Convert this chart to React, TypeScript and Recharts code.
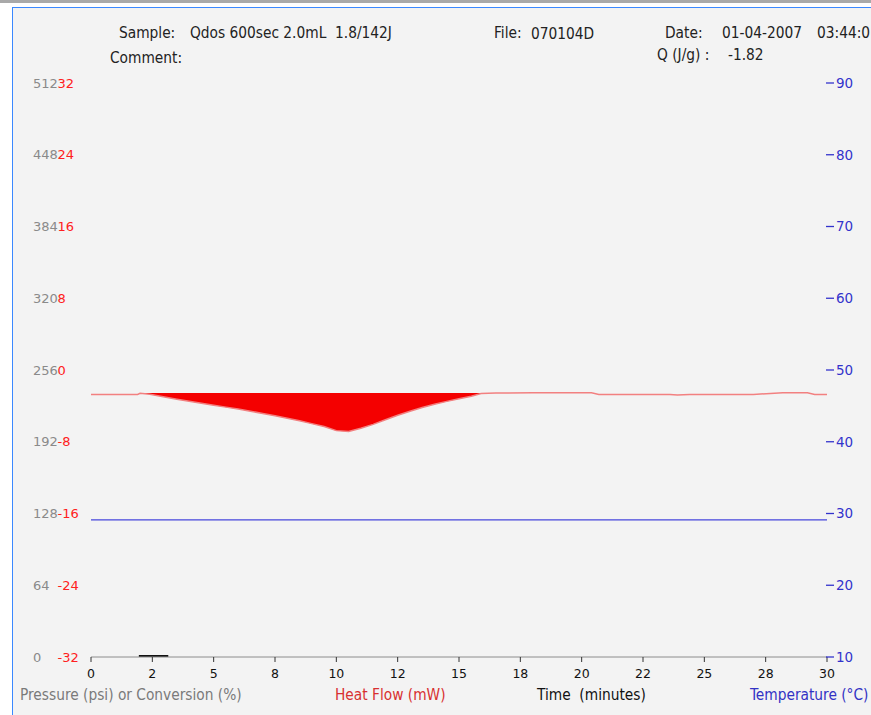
import React from 'react';
import { ComposedChart, Line, Area, XAxis, YAxis } from 'recharts';

// ---- tick values / labels ----
const timeTicks = [0, 2.5, 5, 7.5, 10, 12.5, 15, 17.5, 20, 22.5, 25, 27.5, 30];
const timeTickLabels = ['0', '2', '5', '8', '10', '12', '15', '18', '20', '22', '25', '28', '30'];
const pressureTicks = [0, 64, 128, 192, 256, 320, 384, 448, 512];
const heatTicks = [-32, -24, -16, -8, 0, 8, 16, 24, 32];
const tempTicks = [10, 20, 30, 40, 50, 60, 70, 80, 90];

// ---- heat flow (mW) vs time (min) ----
const heatTimes = [0, 1, 1.9, 2.0, 2.4, 3, 3.5, 4, 4.5, 5, 5.5, 6, 6.5, 7, 7.5, 8, 8.5, 9, 9.5, 10, 10.5, 11, 11.5, 12, 12.5, 13, 13.5, 14, 14.5, 15, 15.5, 15.9, 16.5, 18, 20.4, 20.7, 23.6, 23.9, 24.4, 27, 28.2, 29.2, 29.5, 30];
const heatFlow = [-2.73, -2.73, -2.73, -2.6, -2.7, -3.02, -3.26, -3.48, -3.7, -3.92, -4.14, -4.36, -4.6, -4.84, -5.1, -5.38, -5.66, -5.98, -6.3, -6.76, -6.86, -6.5, -6.06, -5.55, -5.05, -4.6, -4.18, -3.82, -3.5, -3.2, -2.92, -2.62, -2.56, -2.55, -2.54, -2.72, -2.73, -2.8, -2.74, -2.72, -2.55, -2.54, -2.72, -2.73];
const HEAT_FILL_TOP = -2.56;
const FILL_START = 2.0;
const FILL_END = 15.9;

// ---- temperature (°C) ----
const tempTimes = [0, 30];
const temperature = [29.1, 29.1];

// ---- pressure (psi) ----
const pressureTimes = [1.95, 2.5, 3.15];
const pressure = [0.9, 0.9, 0.9];

const heatData = heatTimes.map((t, i) => ({ t, v: heatFlow[i] }));
const fillData = heatTimes
  .map((t, i) => ({ t, band: [HEAT_FILL_TOP, heatFlow[i]] }))
  .filter((d) => d.t >= FILL_START && d.t <= FILL_END);
const tempData = tempTimes.map((t, i) => ({ t, v: temperature[i] }));
const pressureData = pressureTimes.map((t, i) => ({ t, v: pressure[i] }));

const NUM_FONT = '"DejaVu Sans", Verdana, sans-serif';
const TXT_FONT = '"DejaVu Sans Condensed", "Liberation Sans", Arial, sans-serif';

const PressureTick = (props: any) => (
  <text x={33} y={props.y} dy={4.6} fill="#8a8a8a" fontSize={13} fontFamily={NUM_FONT}>
    {props.payload.value}
  </text>
);
const HeatTick = (props: any) => (
  <text x={57.5} y={props.y} dy={4.6} fill="#ff2020" fontSize={13} fontFamily={NUM_FONT}>
    {props.payload.value}
  </text>
);
const TempTick = (props: any) => (
  <g>
    <line x1={826} x2={834} y1={props.y} y2={props.y} stroke="#3333cc" strokeWidth={1.3} />
    <text x={836} y={props.y} dy={4.8} fill="#3333cc" fontSize={13.5} fontFamily={NUM_FONT}>
      {props.payload.value}
    </text>
  </g>
);
const TimeTick = (props: any) => {
  const idx = timeTicks.indexOf(props.payload.value);
  return (
    <text x={props.x} y={678} textAnchor="middle" fill="#111" fontSize={12.5} fontFamily={NUM_FONT}>
      {idx >= 0 ? timeTickLabels[idx] : ''}
    </text>
  );
};

const Label = ({ x, y, color, children, size = 15.3 }: any) => (
  <span
    style={{
      position: 'absolute',
      left: x,
      top: y - 9,
      lineHeight: '18px',
      fontSize: size,
      fontFamily: TXT_FONT,
      color,
      whiteSpace: 'pre',
    }}
  >
    {children}
  </span>
);

export default function App() {
  return (
    <div
      style={{
        position: 'fixed',
        left: 0,
        top: 0,
        width: 871,
        height: 715,
        overflow: 'hidden',
        background: '#ffffff',
      }}
    >
      <div style={{ position: 'absolute', left: 0, top: 0, width: 871, height: 3, background: '#a9a9a9' }} />
      <div
        style={{
          position: 'absolute',
          left: 12,
          top: 7,
          width: 900,
          height: 760,
          background: '#f3f3f3',
          borderLeft: '1.5px solid #3a88ff',
          borderTop: '1.5px solid #3a88ff',
        }}
      />
      <div style={{ position: 'absolute', left: 0, top: 0 }}>
        <ComposedChart width={871} height={715} margin={{ top: 83, right: 0, bottom: 33, left: 0 }}>
          <XAxis
            dataKey="t"
            type="number"
            domain={[0, 30]}
            ticks={timeTicks}
            interval={0}
            allowDataOverflow
            height={25}
            tickSize={5}
            axisLine={{ stroke: '#8c8c8c' }}
            tickLine={{ stroke: '#333' }}
            tick={<TimeTick />}
          />
          <YAxis
            yAxisId="p"
            orientation="left"
            width={45}
            domain={[0, 512]}
            ticks={pressureTicks}
            interval={0}
            axisLine={false}
            tickLine={false}
            tick={<PressureTick />}
          />
          <YAxis
            yAxisId="h"
            orientation="left"
            width={46}
            domain={[-32, 32]}
            ticks={heatTicks}
            interval={0}
            axisLine={false}
            tickLine={false}
            tick={<HeatTick />}
          />
          <YAxis
            yAxisId="tc"
            orientation="right"
            width={44}
            domain={[10, 90]}
            ticks={tempTicks}
            interval={0}
            axisLine={false}
            tickLine={false}
            tick={<TempTick />}
          />
          <Line
            data={tempData}
            dataKey="v"
            yAxisId="tc"
            type="linear"
            stroke="#4646dc"
            strokeWidth={1.2}
            dot={false}
            isAnimationActive={false}
          />
          <Line
            data={heatData}
            dataKey="v"
            yAxisId="h"
            type="linear"
            stroke="#f28080"
            strokeWidth={1.5}
            dot={false}
            isAnimationActive={false}
          />
          <Area
            data={fillData}
            dataKey="band"
            yAxisId="h"
            type="linear"
            fill="#f40000"
            fillOpacity={1}
            stroke="none"
            isAnimationActive={false}
          />
          <Line
            data={pressureData}
            dataKey="v"
            yAxisId="p"
            type="linear"
            stroke="#111111"
            strokeWidth={2}
            dot={false}
            isAnimationActive={false}
          />
        </ComposedChart>
      </div>

      <Label x={119} y={33} color="#222">Sample:</Label>
      <Label x={190} y={33} color="#222">{'Qdos 600sec 2.0mL  1.8/142J'}</Label>
      <Label x={494} y={33} color="#222">File:</Label>
      <Label x={531} y={34} color="#222">070104D</Label>
      <Label x={665} y={33} color="#222">Date:</Label>
      <Label x={722} y={33} color="#222">01-04-2007</Label>
      <Label x={817} y={33} color="#222">03:44:0</Label>
      <Label x={110} y={58} color="#222">Comment:</Label>
      <Label x={657} y={55} color="#222">{'Q (J/g) :'}</Label>
      <Label x={728} y={55} color="#222">-1.82</Label>

      <Label x={20} y={695} color="#7a7a7a">Pressure (psi) or Conversion (%)</Label>
      <Label x={335} y={695} color="#d83030">Heat Flow (mW)</Label>
      <Label x={537} y={695} color="#111">{'Time  (minutes)'}</Label>
      <Label x={750} y={695} color="#3232c4">Temperature (°C)</Label>
    </div>
  );
}
